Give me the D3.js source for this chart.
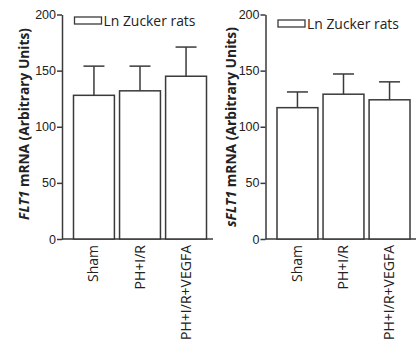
<!DOCTYPE html>
<html><head><meta charset="utf-8">
<script src="https://cdn.jsdelivr.net/npm/d3@7"></script>
<style>body{margin:0;background:#fff}svg{display:block}</style>
</head><body>
<svg id="c" width="416" height="345"></svg>
<script>
const categories = ["Sham", "PH+I/R", "PH+I/R+VEGFA"];
const flt1Means = [128, 132, 145];
const flt1Errors = [26, 22, 26];
const sflt1Means = [117, 129, 124];
const sflt1Errors = [14, 18, 16];
const yTicks = [0, 50, 100, 150, 200];
const legendLabel = "Ln Zucker rats";

const svg = d3.select("#c");
const stroke = "#3a3a3a";

function fit(sel, target) {
  const len = sel.node().getComputedTextLength();
  const fs = parseFloat(sel.attr("font-size"));
  sel.attr("font-size", fs * target / len);
}

function panel(opts) {
  const g = svg.append("g");
  const y = d3.scaleLinear().domain([0, 200]).range([239, 14.5]);
  const x = d3.scaleBand().domain(categories).range([opts.x0 + 9, opts.x0 + 9 + 134]).paddingInner(0.09).paddingOuter(0);
  const ya = g.append("g").attr("transform", `translate(${opts.axisX},0)`)
    .call(d3.axisLeft(y).tickValues(yTicks).tickSize(5).tickSizeOuter(0));
  ya.select(".domain").attr("stroke", stroke).attr("stroke-width", 1.5);
  ya.selectAll(".tick line").attr("stroke", stroke).attr("stroke-width", 1.5);
  ya.selectAll(".tick text").attr("font-family", "Liberation Sans, Arial, sans-serif").attr("font-size", 12.5).attr("fill", "#222").attr("x", -6);
  g.append("line").attr("x1", opts.axisX).attr("x2", opts.xEnd).attr("y1", y(0)).attr("y2", y(0))
    .attr("stroke", stroke).attr("stroke-width", 1.5);
  g.selectAll("rect.bar").data(opts.means).join("rect").attr("class", "bar")
    .attr("x", (d, i) => x(categories[i]) + 0.5)
    .attr("y", d => y(d))
    .attr("width", x.bandwidth() - 1)
    .attr("height", d => y(0) - y(d))
    .attr("fill", "#fff").attr("stroke", stroke).attr("stroke-width", 1.5);
  opts.means.forEach((m, i) => {
    const cx = x(categories[i]) + x.bandwidth() / 2;
    const top = y(m + opts.errors[i]);
    g.append("line").attr("x1", cx).attr("x2", cx).attr("y1", y(m)).attr("y2", top).attr("stroke", stroke).attr("stroke-width", 1.5);
    g.append("line").attr("x1", cx - 10.5).attr("x2", cx + 10.5).attr("y1", top).attr("y2", top).attr("stroke", stroke).attr("stroke-width", 1.5);
  });
  categories.forEach((c, i) => {
    const cx = x(c) + x.bandwidth() / 2;
    const t = g.append("text").attr("transform", `translate(${cx + 4.5},${245}) rotate(-90)`)
      .attr("text-anchor", "end").attr("font-family", "Open Sans, sans-serif").attr("font-size", 13.5).attr("fill", "#222").text(c);
    if (i === 2) { const fs = 13.5 * 95 / t.node().getComputedTextLength(); g.selectAll("text.xl").attr("font-size", fs); t.attr("font-size", fs); }
    t.attr("class", "xl");
  });
  g.append("rect").attr("x", opts.legX).attr("y", opts.legY).attr("width", 27).attr("height", 7)
    .attr("fill", "#fff").attr("stroke", stroke).attr("stroke-width", 1.3);
  const lt = g.append("text").attr("x", opts.legX + 29).attr("y", opts.legY + 8.5).attr("font-family", "Open Sans, sans-serif")
    .attr("font-size", 13.5).attr("fill", "#222").text(legendLabel);
  fit(lt, 92);
  const t = g.append("text").attr("transform", `translate(${opts.titleX},${opts.titleY}) rotate(-90)`)
    .attr("text-anchor", "middle").attr("font-family", "Open Sans, sans-serif").attr("font-weight", "bold")
    .attr("font-size", 14).attr("fill", "#222");
  t.append("tspan").attr("font-style", "italic").text(opts.gene);
  t.append("tspan").text(" mRNA (Arbitrary Units)");
  fit(t, opts.titleLen);
}

panel({x0: 64, axisX: 62, xEnd: 213, means: flt1Means, errors: flt1Errors, legX: 74.5, legY: 17, titleX: 29, titleY: 124, titleLen: 192, gene: "FLT1"});
panel({x0: 267.5, axisX: 265.5, xEnd: 416, means: sflt1Means, errors: sflt1Errors, legX: 278, legY: 20, titleX: 236, titleY: 127, titleLen: 200, gene: "sFLT1"});
</script>
</body></html>
